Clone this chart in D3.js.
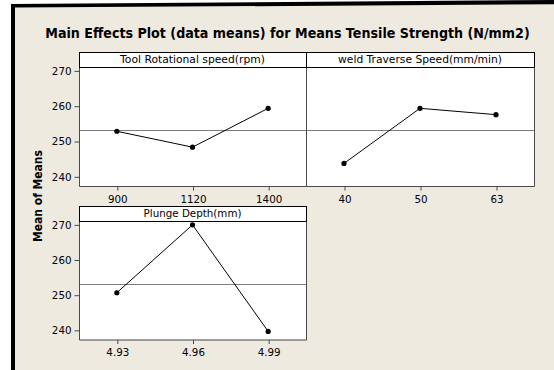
<!DOCTYPE html>
<html>
<head>
<meta charset="utf-8">
<script src="https://cdn.jsdelivr.net/npm/d3@7"></script>
<style>
  html, body { margin: 0; padding: 0; background: #ffffff; }
  svg { display: block; }
</style>
</head>
<body>
<script>
// ---------------- data ----------------
const chartTitle = "Main Effects Plot (data means) for Means Tensile Strength (N/mm2)";
const yAxisLabel = "Mean of Means";
const yTicks = [240, 250, 260, 270];
const yDomain = [237.4, 271.1];
const grandMean = 253.3;

const speedTitle = "Tool Rotational speed(rpm)";
const speedLevels = ["900", "1120", "1400"];
const speedMeans = [252.9, 248.4, 259.4];

const traverseTitle = "weld Traverse Speed(mm/min)";
const traverseLevels = ["40", "50", "63"];
const traverseMeans = [243.8, 259.4, 257.6];

const depthTitle = "Plunge Depth(mm)";
const depthLevels = ["4.93", "4.96", "4.99"];
const depthMeans = [250.7, 270.0, 239.7];

// ---------------- drawing ----------------
const W = 554, H = 370;
const svg = d3.select("body").append("svg").attr("width", W).attr("height", H);

svg.append("rect").attr("width", W).attr("height", H).attr("fill", "#ffffff");
// black frame (top + left), slightly tilted as in the scan
svg.append("path").attr("d", "M11,4 L554,0 L554,370 L11,370 Z").attr("fill", "#000");
svg.append("path").attr("d", "M15,7.6 L554,4.3 L554,370 L15,370 Z").attr("fill", "#EEEAE0");

const FONT = "'DejaVu Sans', Verdana, sans-serif";

// horizontally squeeze a text (placed at its own origin inside group g) to a target width
function fittedText(parent, x, y, rotate, target, size, weight, str) {
  const g = parent.append("g").attr("transform", `translate(${x},${y})` + (rotate ? ` rotate(${rotate})` : ""));
  const inner = g.append("g");
  const txt = inner.append("text")
    .attr("text-anchor", "middle")
    .attr("font-family", FONT).attr("font-weight", weight).attr("font-size", size)
    .attr("fill", "#000")
    .text(str);
  const w = txt.node().getComputedTextLength();
  if (w > target) inner.attr("transform", `scale(${target / w},1)`);
  return txt;
}

// title
fittedText(svg, 287.5, 38.3, 0, 485, 13.8, "bold", chartTitle);
// y axis label
fittedText(svg, 42.3, 196, -90, 92, 11.5, "bold", yAxisLabel);

function drawPanel(opts) {
  const { levels, values, title, x0, x1, stripTop, plotTop, plotBottom, showY } = opts;
  const g = svg.append("g");
  const x = d3.scalePoint().domain(levels).range([x0, x1]).padding(0.5);
  const y = d3.scaleLinear().domain(yDomain).range([plotBottom, plotTop]);

  // plot area
  g.append("rect").attr("x", x0).attr("y", plotTop)
    .attr("width", x1 - x0).attr("height", plotBottom - plotTop)
    .attr("fill", "#fff");

  // reference line at grand mean
  g.append("line")
    .attr("x1", x0).attr("x2", x1)
    .attr("y1", Math.round(y(grandMean)) + 0.5).attr("y2", Math.round(y(grandMean)) + 0.5)
    .attr("stroke", "#7c7c7c").attr("stroke-width", 1);

  // frame (left, right, bottom)
  g.append("path")
    .attr("d", `M${x0 + 0.5},${plotTop} L${x0 + 0.5},${plotBottom + 0.5} L${x1 + 0.5},${plotBottom + 0.5} L${x1 + 0.5},${plotTop}`)
    .attr("fill", "none").attr("stroke", "#4a4a4a").attr("stroke-width", 1);

  // strip
  g.append("rect").attr("x", x0 + 0.5).attr("y", stripTop + 0.5)
    .attr("width", x1 - x0).attr("height", plotTop - stripTop)
    .attr("fill", "#fff").attr("stroke", "#000").attr("stroke-width", 1);
  fittedText(g, (x0 + x1) / 2, plotTop - 3.6, 0, opts.titleWidth, 11.3, "normal", title);

  // data line + points
  const pts = levels.map((l, i) => [x(l), y(values[i])]);
  g.append("path")
    .attr("d", d3.line()(pts))
    .attr("fill", "none").attr("stroke", "#000").attr("stroke-width", 1);
  g.selectAll("circle.pt").data(pts).join("circle")
    .attr("class", "pt")
    .attr("cx", d => d[0]).attr("cy", d => d[1]).attr("r", 2.6)
    .attr("fill", "#000");

  // x axis
  const xa = g.append("g")
    .attr("transform", `translate(0.5,${plotBottom + 0.5})`)
    .call(d3.axisBottom(x).tickSize(4).tickSizeOuter(0).tickPadding(5));
  xa.select(".domain").remove();
  xa.selectAll("line").attr("stroke", "#4a4a4a");
  xa.selectAll("text").attr("font-family", FONT).attr("font-size", 10.3).attr("fill", "#000");

  if (showY) {
    const ya = g.append("g")
      .attr("transform", `translate(${x0 + 0.5},0)`)
      .call(d3.axisLeft(y).tickValues(yTicks).tickSize(5).tickSizeOuter(0).tickPadding(3));
    ya.select(".domain").remove();
    ya.selectAll("line").attr("stroke", "#4a4a4a");
    ya.selectAll("text").attr("font-family", FONT).attr("font-size", 10.3).attr("fill", "#000");
  }
}

drawPanel({ levels: speedLevels, values: speedMeans, title: speedTitle, titleWidth: 145,
  x0: 79, x1: 306, stripTop: 52, plotTop: 67, plotBottom: 186, showY: true });
drawPanel({ levels: traverseLevels, values: traverseMeans, title: traverseTitle, titleWidth: 164,
  x0: 306, x1: 534, stripTop: 52, plotTop: 67, plotBottom: 186, showY: false });
drawPanel({ levels: depthLevels, values: depthMeans, title: depthTitle, titleWidth: 98,
  x0: 79, x1: 306, stripTop: 206, plotTop: 221, plotBottom: 339.5, showY: true });
</script>
</body>
</html>
